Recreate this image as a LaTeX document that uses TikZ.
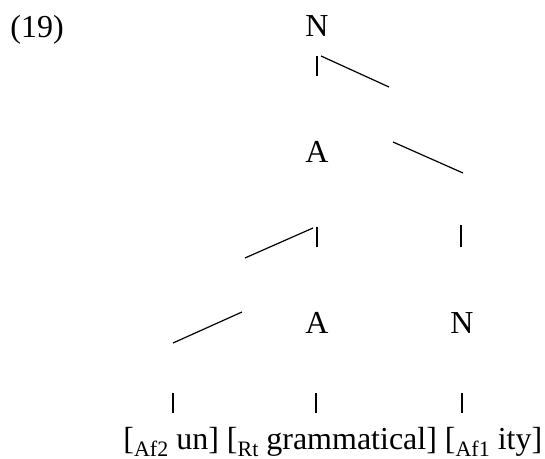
\documentclass[tikz,border=0pt]{standalone}
\usepackage{fontspec}
\setmainfont{Liberation Serif}
\usetikzlibrary{positioning}
\newcommand{\lsub}[1]{\raisebox{-0.22em}{\fontsize{11}{11}\selectfont #1}}
\tikzset{
  every picture/.style={font=\fontsize{16}{19}\selectfont},
  cat/.style={inner sep=0pt, anchor=base},
  bar/.style={line width=1pt},
  branch/.style={line width=0.6pt},
}

\begin{document}
\begin{tikzpicture}[x=0.5pt, y=-0.5pt]
  \useasboundingbox (0,0) rectangle (545,459);
  \node[cat, anchor=base west] (ex) at (10,38) {(19)};
  % categories
  \node[cat] (n0) at (317,37) {N};
  \node[cat] (a1) at (317,163) {A};
  \node[cat] (a2) at (317,333) {A};
  \node[cat] (n1) at (462,333) {N};
  \node[cat, anchor=base west] (words) at (123,449)
    {[\lsub{Af2} un] [\lsub{Rt} grammatical] [\lsub{Af1} ity]};
  % ends of the vertical ticks
  \foreach \n/\x/\ya/\yb in {t0/317/56/76, t1/317/227/247, t2/461/225/247,
                             t3/173/393/413, t4/316/393/413, t5/462/393/413} {
    \coordinate (\n a) at (\x,\ya);
    \coordinate (\n b) at (\x,\yb);
    \draw[bar] (\n a) -- (\n b);
  }
  % ends of the branches
  \foreach \n/\xa/\ya/\xb/\yb in {d0/321/56/389/87, d1/393/142/463/173,
                                  d2/313/228/245/258, d3/242/312/173/343} {
    \coordinate (\n a) at (\xa,\ya);
    \coordinate (\n b) at (\xb,\yb);
    \draw[branch] (\n a) -- (\n b);
  }
\end{tikzpicture}
\end{document}
